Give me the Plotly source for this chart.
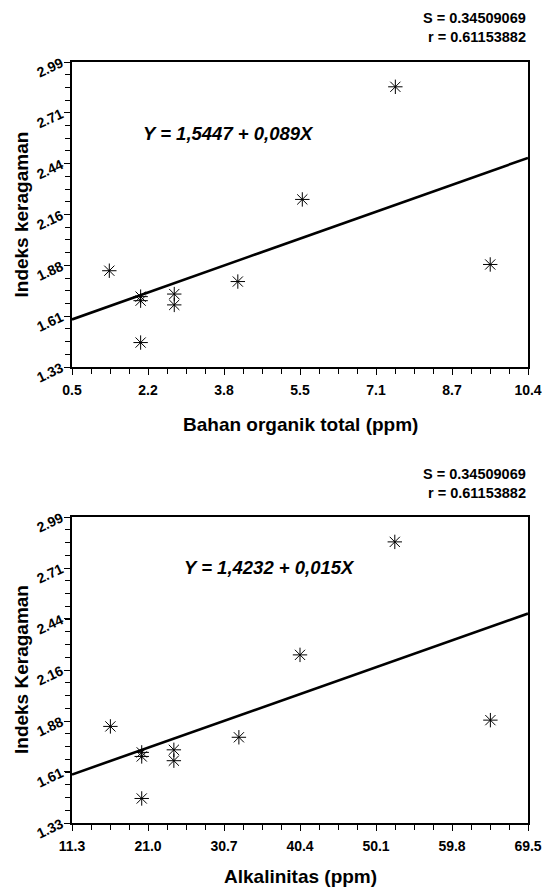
import plotly.graph_objects as go

# ---- data ----
indeks = [1.854, 1.713, 1.691, 1.463, 1.727, 1.668, 1.795, 2.242, 2.855, 1.888]
bahan_organik = [1.31, 1.99, 1.99, 1.99, 2.72, 2.72, 4.10, 5.50, 7.52, 9.58]
alkalinitas = [16.2, 20.2, 20.2, 20.2, 24.3, 24.3, 32.6, 40.4, 52.5, 64.7]

line1_x = [0.5, 10.4]
line1_y = [1.589, 2.468]
line2_x = [11.3, 69.5]
line2_y = [1.593, 2.466]

x1_ticks = [0.5, 2.15, 3.8, 5.45, 7.1, 8.75, 10.4]
x1_labels = ["0.5", "2.2", "3.8", "5.5", "7.1", "8.7", "10.4"]
x2_ticks = [11.3, 21.0, 30.7, 40.4, 50.1, 59.8, 69.5]
x2_labels = ["11.3", "21.0", "30.7", "40.4", "50.1", "59.8", "69.5"]
y_ticks = [1.33, 1.6067, 1.8833, 2.16, 2.4367, 2.7133, 2.99]
y_labels = ["1.33", "1.61", "1.88", "2.16", "2.44", "2.71", "2.99"]

eq1 = "Y = 1,5447 + 0,089X"
eq2 = "Y = 1,4232 + 0,015X"
stat_s = "S = 0.34509069"
stat_r = "r = 0.61153882"

W, H = 543, 891
FONT = "Liberation Sans, Arial, sans-serif"

fig = go.Figure()

marker = dict(symbol="asterisk-open", size=12, color="black", line=dict(color="black", width=1))

fig.add_trace(go.Scatter(x=bahan_organik, y=indeks, mode="markers", marker=marker,
                         xaxis="x", yaxis="y", showlegend=False))
fig.add_trace(go.Scatter(x=line1_x, y=line1_y, mode="lines", line=dict(color="black", width=2.6),
                         xaxis="x", yaxis="y", showlegend=False))
fig.add_trace(go.Scatter(x=alkalinitas, y=indeks, mode="markers", marker=marker,
                         xaxis="x2", yaxis="y2", showlegend=False))
fig.add_trace(go.Scatter(x=line2_x, y=line2_y, mode="lines", line=dict(color="black", width=2.6),
                         xaxis="x2", yaxis="y2", showlegend=False))

L, R = 72, 528
T1, B1 = 62, 367
T2, B2 = 517, 823

def px(x):
    return x / W

def py(y):
    return 1 - y / H

def bold(lst):
    return ["<b>%s</b>" % s for s in lst]

tickfont = dict(family=FONT, size=14, color="black")
axis_common = dict(showline=True, linecolor="black", linewidth=1.5, mirror=True,
                   ticks="outside", ticklen=6, tickwidth=1, tickcolor="black",
                   showgrid=False, zeroline=False, tickfont=tickfont, automargin=False)

def xaxis(ticks, labels, rng, minor_dt, anchor):
    return dict(axis_common, domain=[px(L), px(R)], range=rng, tickmode="array",
                tickvals=ticks, ticktext=bold(labels), anchor=anchor, ticklabelstandoff=3,
                minor=dict(tick0=rng[0], dtick=minor_dt, ticks="outside", ticklen=5,
                           tickcolor="black", tickwidth=1, showgrid=False))

def yaxis(dom, anchor):
    return dict(axis_common, domain=dom, range=[1.33, 2.99], tickmode="array",
                tickvals=y_ticks, ticktext=bold(y_labels), tickangle=-25, anchor=anchor,
                minor=dict(tick0=1.33, dtick=(2.99 - 1.33) / 24, ticks="outside", ticklen=5,
                           tickcolor="black", tickwidth=1, showgrid=False))

fig.update_layout(
    template="none",
    width=W, height=H, margin=dict(l=0, r=0, t=0, b=0, autoexpand=False),
    paper_bgcolor="white", plot_bgcolor="white",
    xaxis=xaxis(x1_ticks, x1_labels, [0.5, 10.4], 1.65 / 4, "y"),
    yaxis=yaxis([py(B1), py(T1)], "x"),
    xaxis2=xaxis(x2_ticks, x2_labels, [11.3, 69.5], 9.7 / 4, "y2"),
    yaxis2=yaxis([py(B2), py(T2)], "x2"),
)

def txt(x, y, s, size, xanchor="center", italic=False, angle=0):
    t = "<b><i>%s</i></b>" % s if italic else "<b>%s</b>" % s
    fig.add_annotation(x=px(x), y=py(y), xref="paper", yref="paper", text=t, showarrow=False,
                       xanchor=xanchor, yanchor="middle", textangle=angle,
                       font=dict(family=FONT, size=size, color="black"))

# stats text
txt(R, 18, stat_s, 14.5, xanchor="right")
txt(R, 37, stat_r, 14.5, xanchor="right")
txt(R, 474, stat_s, 14.5, xanchor="right")
txt(R, 493, stat_r, 14.5, xanchor="right")

# equations
txt(141, 134, eq1, 18.5, xanchor="left", italic=True)
txt(182, 567, eq2, 18.5, xanchor="left", italic=True)

# axis titles
txt(300, 425, "Bahan organik total (ppm)", 19)
txt(300, 876, "Alkalinitas (ppm)", 19)
txt(21, (T1 + B1) / 2, "Indeks keragaman", 19, angle=-90)
txt(21, (T2 + B2) / 2, "Indeks Keragaman", 19, angle=-90)

fig.write_html("out.html", config={"displayModeBar": False},
               post_script="document.body.style.margin='0';document.body.style.overflow='hidden';")
